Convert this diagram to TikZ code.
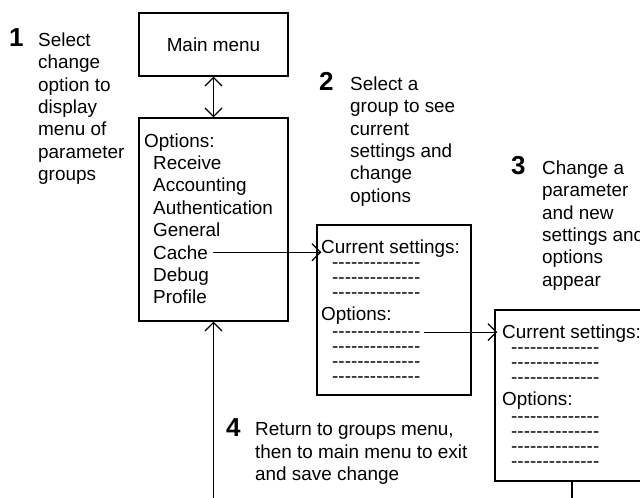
\documentclass[tikz,border=0pt]{standalone}
\usepackage{fontspec}
\setmainfont{Liberation Sans}
\usetikzlibrary{arrows.meta}
% a row of separate hyphens (the braces stop them joining into dashes)
\newcommand\dashrow{-{}-{}-{}-{}-{}-{}-{}-{}-{}-{}-{}-{}-{}-}

\begin{document}
\begin{tikzpicture}[x=1pt,y=-1pt,
  txt/.style={font=\fontsize{18.9}{22.4}\selectfont, inner sep=0pt},
  para/.style={txt, align=left, anchor=north west},
  num/.style={font=\fontsize{26}{26}\selectfont\bfseries, inner sep=0pt, anchor=base west},
  ln/.style={txt, anchor=base west},
  frame/.style={draw, line width=1.4pt, inner sep=0pt, txt},
  tip/.tip={Straight Barb[length=8.5pt,width=17pt]},
  arr/.style={line width=1.2pt, -tip},
  darr/.style={line width=1.2pt, tip-tip}
]
\useasboundingbox (0,0) rectangle (640,498);

% menu boxes
\node[frame, minimum width=149pt, minimum height=63pt] (main) at (213.5,44.5) {Main menu};
\node[frame, minimum width=149pt, minimum height=203pt] (opts) at (213.5,219.5) {};
\node[frame, minimum width=154pt, minimum height=170pt] (box2) at (394,310) {};
\node[frame, minimum width=154pt, minimum height=171pt] (box3) at (572,395.5) {};

% group list
\node[ln] (ohead) at (144,147) {Options:};
\foreach \t [count=\i] in {Receive,Accounting,Authentication,General,Cache,Debug,Profile}
  \node[ln] (g\i) at (153,147+22.4*\i) {\t};

% settings screen after choosing a group
\node[ln] (b2cur) at (321,253) {Current settings:};
\foreach \i in {1,2,3}
  \node[ln] (b2s\i) at (332,253+15*\i) {\dashrow};
\node[ln] (b2opt) at (321,320) {Options:};
\foreach \i in {1,2,3,4}
  \node[ln] (b2o\i) at (332,322+15*\i) {\dashrow};

% settings screen after changing a parameter
\node[ln] (b3cur) at (502,338) {Current settings:};
\foreach \i in {1,2,3}
  \node[ln] (b3s\i) at (511,338+15*\i) {\dashrow};
\node[ln] (b3opt) at (502,405) {Options:};
\foreach \i in {1,2,3,4}
  \node[ln] (b3o\i) at (511,407+15*\i) {\dashrow};

% step labels
\node[num] (n1) at (9,46) {1};
\node[para] (t1) at (38,32.5) {Select\\change\\option to\\display\\menu of\\parameter\\groups};
\node[num] (n2) at (319,90) {2};
\node[para] (t2) at (350,76.5) {Select a\\group to see\\current\\settings and\\change\\options};
\node[num] (n3) at (511,174) {3};
\node[para] (t3) at (542,160.5) {Change a\\parameter\\and new\\settings and\\options\\appear};
\node[num] (n4) at (226,436) {4};
\node[para] (t4) at (255,422.5) {Return to groups menu,\\then to main menu to exit\\and save change};

% connectors
\draw[darr] (main.south) -- (opts.north);
\draw[arr] ([xshift=5pt]g5.east) -- ([xshift=5pt]g5.east -| box2.west);
\draw[arr] ([xshift=3pt,yshift=2pt]b2o1.east) -- ([xshift=3pt,yshift=2pt]b2o1.east -| box3.west);
\draw[arr] (box3.south) -- ++(0,40) -| (opts.south);
\end{tikzpicture}
\end{document}
